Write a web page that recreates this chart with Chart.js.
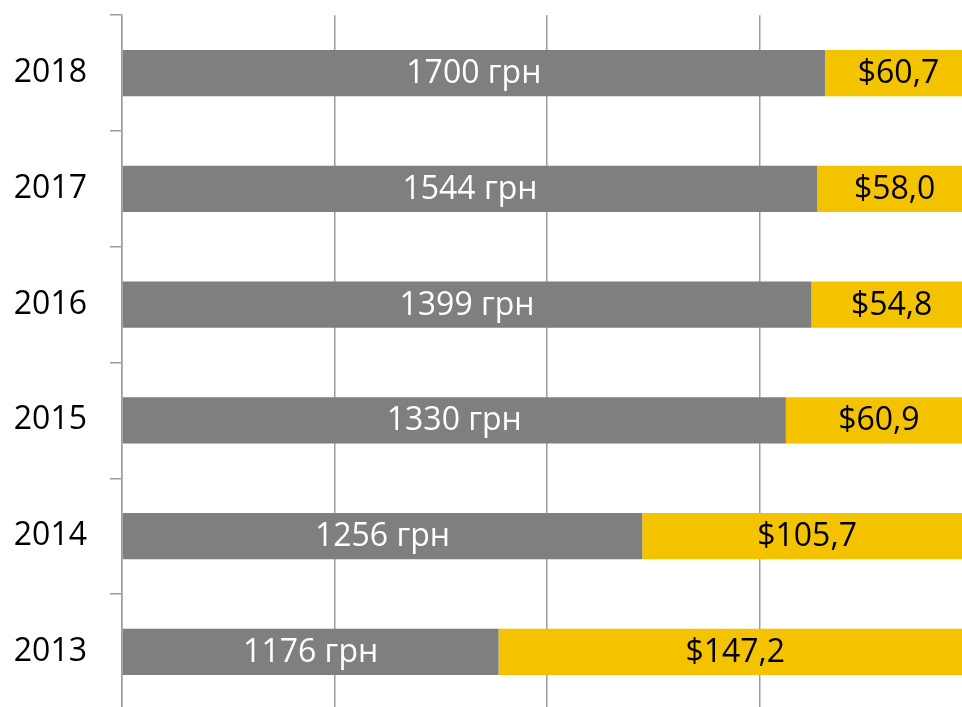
<!DOCTYPE html>
<html>
<head>
<meta charset="utf-8">
<script src="https://cdn.jsdelivr.net/npm/chart.js@4/dist/chart.umd.min.js"></script>
<style>
  html, body { margin: 0; padding: 0; background: #fff; overflow: hidden; }
  canvas { display: block; position: absolute; left: 0; top: -27px; }
</style>
</head>
<body>
<canvas id="salaryChart" width="990" height="779"></canvas>
<script>
// Data (100% stacked shares)
const years = ["2018", "2017", "2016", "2015", "2014", "2013"];
const uahShare = [82.7, 81.8, 81.1, 78.1, 61.2, 44.3];
const usdShare = [17.3, 18.2, 18.9, 21.9, 38.8, 55.7];
const uahLabels = ["1700 грн", "1544 грн", "1399 грн", "1330 грн", "1256 грн", "1176 грн"];
const usdLabels = ["$60,7", "$58,0", "$54,8", "$60,9", "$105,7", "$147,2"];
const xTicks = [0, 25, 50, 75, 100];

const FONT = "'Open Sans', 'Noto Sans', sans-serif";

// Draw value labels centred on each bar segment
const barLabels = {
  id: "barLabels",
  afterDatasetsDraw(chart) {
    const ctx = chart.ctx;
    const texts = [uahLabels, usdLabels];
    const colors = ["#ffffff", "#000000"];
    ctx.save();
    ctx.font = "32px " + FONT;
    ctx.textAlign = "center";
    ctx.textBaseline = "middle";
    chart.data.datasets.forEach((ds, i) => {
      const meta = chart.getDatasetMeta(i);
      meta.data.forEach((bar, j) => {
        ctx.fillStyle = colors[i];
        ctx.fillText(texts[i][j], (bar.x + bar.base) / 2, bar.y + 1);
      });
    });
    ctx.restore();
  },
};

const ctx = document.getElementById("salaryChart").getContext("2d");

new Chart(ctx, {
  type: "bar",
  data: {
    labels: years,
    datasets: [
      {
        label: "UAH",
        data: uahShare,
        backgroundColor: "#7f7f7f",
        borderWidth: 0,
        categoryPercentage: 1,
        barPercentage: 0.4,
      },
      {
        label: "USD",
        data: usdShare,
        backgroundColor: "#f4c300",
        borderWidth: 0,
        categoryPercentage: 1,
        barPercentage: 0.4,
      },
    ],
  },
  options: {
    indexAxis: "y",
    responsive: false,
    animation: false,
    devicePixelRatio: 1,
    layout: {
      padding: { top: 14, right: 18, bottom: 8, left: 0 },
    },
    plugins: {
      legend: { display: false },
      tooltip: { enabled: false },
    },
    scales: {
      x: {
        stacked: true,
        min: 0,
        max: 100,
        afterBuildTicks: (scale) => {
          scale.ticks = xTicks.map((v) => ({ value: v }));
        },
        ticks: { display: false },
        border: { display: false },
        grid: {
          color: "#9d9d9d",
          lineWidth: 1.5,
          drawTicks: false,
        },
      },
      y: {
        stacked: true,
        afterFit: (scale) => {
          scale.width = 122;
        },
        ticks: {
          color: "#000000",
          padding: 23,
          font: { family: FONT, size: 32 },
        },
        border: {
          display: true,
          color: "#9d9d9d",
          width: 1.5,
        },
        grid: {
          drawOnChartArea: false,
          drawTicks: true,
          tickLength: 12,
          color: "#9d9d9d",
          lineWidth: 1.5,
        },
      },
    },
  },
  plugins: [barLabels],
});
</script>
</body>
</html>
